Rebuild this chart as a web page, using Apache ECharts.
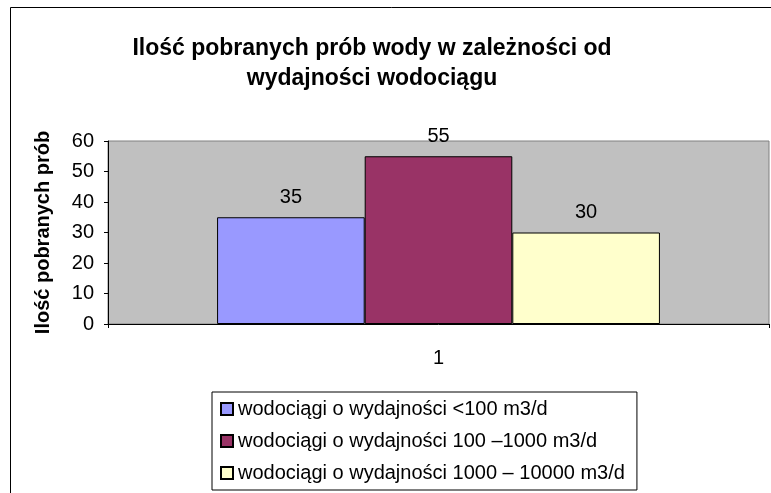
<!DOCTYPE html>
<html>
<head>
<meta charset="utf-8">
<script src="https://cdn.jsdelivr.net/npm/echarts@6/dist/echarts.min.js"></script>
<style>
  html, body { margin: 0; padding: 0; background: #fff; }
  #chart { width: 771px; height: 493px; }
</style>
</head>
<body>
<div id="chart"></div>
<script>
// dane wykresu
var categories = ['1'];
var seriesNames = [
  'wodociągi o wydajności <100 m3/d',
  'wodociągi o wydajności 100 –1000 m3/d',
  'wodociągi o wydajności 1000 – 10000 m3/d'
];
var small = [35];
var medium = [55];
var large = [30];
var yTicks = [0, 10, 20, 30, 40, 50, 60];

var colors = ['#9999FF', '#993366', '#FFFFCC'];
var font = 'Arial, "Liberation Sans", sans-serif';

var myChart = echarts.init(document.getElementById('chart'));

var values = [small, medium, large];

var option = {
  animation: false,
  textStyle: { fontFamily: font },
  title: {
    text: 'Ilość pobranych prób wody w zależności od\nwydajności wodociągu',
    left: 367,
    top: 29,
    textAlign: 'center',
    textStyle: {
      fontFamily: font,
      fontSize: 23,
      fontWeight: 'bold',
      color: '#000',
      lineHeight: 30
    }
  },
  // ramka wykresu
  graphic: [{
    type: 'rect',
    shape: { x: 10.5, y: 7.5, width: 800, height: 520 },
    style: { fill: 'none', stroke: '#000', lineWidth: 1 },
    silent: true
  }],
  grid: {
    left: 108,
    top: 141,
    right: 2,
    bottom: 169,
    show: true,
    backgroundColor: '#C0C0C0',
    borderColor: '#808080',
    borderWidth: 1
  },
  legend: {
    orient: 'vertical',
    left: 212,
    top: 392,
    padding: [7, 12, 7, 8],
    itemWidth: 12,
    itemHeight: 12,
    itemGap: 12,
    icon: 'rect',
    borderColor: '#000',
    borderWidth: 1,
    textStyle: { fontFamily: font, fontSize: 20, color: '#000' },
    data: seriesNames
  },
  xAxis: {
    type: 'category',
    data: categories,
    axisLine: { lineStyle: { color: '#000', width: 1 } },
    axisTick: { show: true, length: 4, lineStyle: { color: '#000' } },
    axisLabel: { color: '#000', fontSize: 20, margin: 24, fontFamily: font }
  },
  yAxis: {
    type: 'value',
    min: yTicks[0],
    max: yTicks[yTicks.length - 1],
    interval: 10,
    name: 'Ilość pobranych prób',
    nameLocation: 'middle',
    nameGap: 55,
    nameRotate: 90,
    nameTextStyle: { fontFamily: font, fontSize: 20, fontWeight: 'bold', color: '#000' },
    axisLine: { show: true, lineStyle: { color: '#000', width: 1 } },
    axisTick: { show: true, length: 4, lineStyle: { color: '#000' } },
    axisLabel: { color: '#000', fontSize: 20, margin: 14, fontFamily: font },
    splitLine: { show: false }
  },
  series: seriesNames.map(function (name, i) {
    return {
      type: 'bar',
      name: name,
      data: values[i],
      barGap: '0%',
      barCategoryGap: '33%',
      itemStyle: { color: colors[i], borderColor: '#000', borderWidth: 1 },
      label: {
        show: true,
        position: 'top',
        distance: 10,
        color: '#000',
        fontSize: 20,
        fontFamily: font
      }
    };
  })
};

myChart.setOption(option);
</script>
</body>
</html>
